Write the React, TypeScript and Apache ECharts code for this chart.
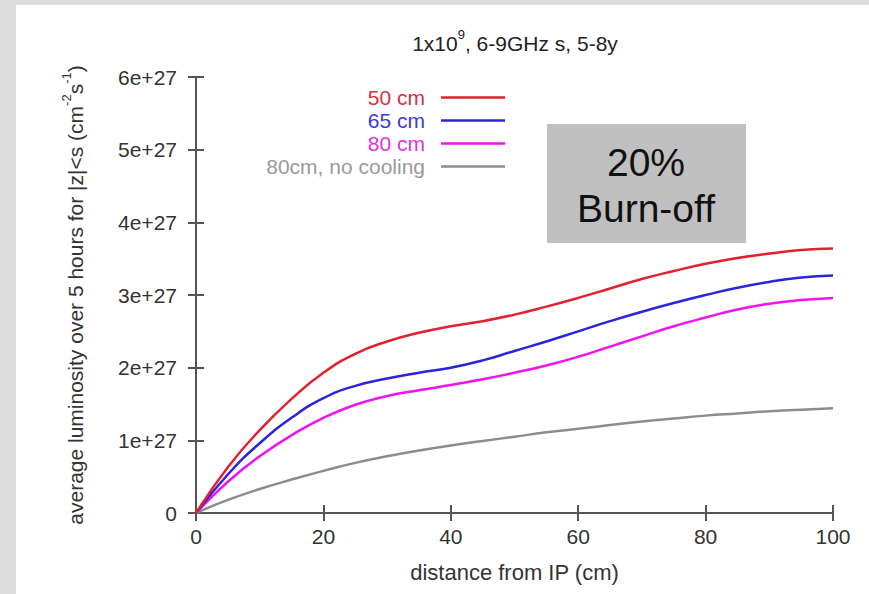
import React, { useEffect, useRef } from "react";
import * as echarts from "echarts";

// distance from IP (cm)
const X = [0, 5, 10, 15, 20, 25, 30, 35, 40, 45, 50, 55, 60, 65, 70, 75, 80, 85, 90, 95, 100];
// average luminosity, in units of 1e27 cm^-2 s^-1
const L50 = [0, 0.63, 1.14, 1.57, 1.93, 2.19, 2.36, 2.48, 2.57, 2.64, 2.73, 2.84, 2.96, 3.09, 3.22, 3.33, 3.43, 3.51, 3.57, 3.62, 3.64];
const L65 = [0, 0.53, 0.96, 1.31, 1.58, 1.75, 1.85, 1.93, 2.0, 2.1, 2.23, 2.36, 2.5, 2.64, 2.77, 2.89, 3.0, 3.1, 3.18, 3.24, 3.27];
const L80 = [0, 0.43, 0.78, 1.07, 1.31, 1.49, 1.61, 1.69, 1.76, 1.84, 1.93, 2.03, 2.15, 2.29, 2.43, 2.57, 2.69, 2.8, 2.88, 2.93, 2.96];
const L80NC = [0, 0.18, 0.33, 0.46, 0.58, 0.69, 0.78, 0.86, 0.93, 0.99, 1.05, 1.11, 1.16, 1.21, 1.26, 1.3, 1.34, 1.37, 1.4, 1.42, 1.44];
const UNIT = 1e27;

const SERIES_NAMES = ["50 cm", "65 cm", "80 cm", "80cm, no cooling"];
const SERIES_DATA = [L50, L65, L80, L80NC];
const LINE_COLORS = ["#e3202f", "#2a24dc", "#f012f0", "#8c8c8c"];
const TEXT_COLORS = ["#d8303f", "#4038d6", "#e032e0", "#9a9a9a"];

const X_TICKS = [0, 20, 40, 60, 80, 100];
const Y_TICK_LABELS = ["0", "1e+27", "2e+27", "3e+27", "4e+27", "5e+27", "6e+27"];

const FONT = "Liberation Sans, Arial, sans-serif";
const FRAME = "#555555";

export default function App() {
  const ref = useRef<HTMLDivElement>(null);

  useEffect(() => {
    if (!ref.current) return;
    const chart = echarts.init(ref.current, undefined, { renderer: "svg" });

    const axisCommon = {
      type: "value" as const,
      axisLine: { show: true, lineStyle: { color: FRAME, width: 2 } },
      axisTick: { show: true, inside: true, length: 8, lineStyle: { color: FRAME, width: 2 } },
      splitLine: { show: false },
    };

    const legendRows = [99, 122, 145, 168];

    const option: any = {
      animation: false,
      backgroundColor: "transparent",
      textStyle: { fontFamily: FONT },
      title: {
        text: "{a|1x10}{s|9}{a|, 6-9GHz s, 5-8y}",
        left: 515,
        top: 28,
        textAlign: "center",
        padding: 0,
        textStyle: {
          fontWeight: "normal",
          rich: {
            a: { fontSize: 21, fontFamily: FONT, fontWeight: "normal", color: "#222", lineHeight: 26, verticalAlign: "bottom" },
            s: { fontSize: 13, fontFamily: FONT, fontWeight: "normal", color: "#222", lineHeight: 26, verticalAlign: "top" },
          },
        },
      },
      legend: SERIES_NAMES.map((name, i) => ({
        data: [{ name, icon: "rect" }],
        orient: "vertical",
        align: "right",
        right: 869 - 505,
        top: legendRows[i] - 12,
        padding: 0,
        itemWidth: 64,
        itemHeight: 2.5,
        selectedMode: false,
        itemStyle: { color: LINE_COLORS[i], borderWidth: 0 },
        textStyle: {
          color: TEXT_COLORS[i],
          fontSize: 21,
          fontFamily: FONT,
          padding: [0, 11, 0, 0],
        },
      })),
      grid: { left: 196, right: 36, top: 77, bottom: 81, containLabel: false },
      xAxis: [
        {
          ...axisCommon,
          position: "bottom",
          min: 0,
          max: 100,
          interval: 20,
          name: "distance from IP (cm)",
          nameLocation: "middle",
          nameGap: 48,
          nameTextStyle: { fontSize: 22, color: "#333", fontFamily: FONT },
          axisLabel: {
            show: true,
            margin: 13,
            fontSize: 21,
            color: "#333",
            fontFamily: FONT,
            formatter: (v: number) => (X_TICKS.includes(v) ? String(v) : ""),
          },
        },
        {
          ...axisCommon,
          position: "top",
          min: 0,
          max: 100,
          interval: 20,
          axisLabel: { show: false },
        },
      ],
      yAxis: [
        {
          ...axisCommon,
          position: "left",
          min: 0,
          max: 6 * UNIT,
          interval: UNIT,
          name: "{a|average luminosity over 5 hours for |z|<s (cm}{s|-2}{a|s}{s|-1}{a|)}",
          nameLocation: "middle",
          nameGap: 110,
          nameTextStyle: {
            rich: {
              a: { fontSize: 21, fontFamily: FONT, color: "#333", lineHeight: 26, verticalAlign: "bottom" },
              s: { fontSize: 13, fontFamily: FONT, color: "#333", lineHeight: 26, verticalAlign: "top" },
            },
          },
          axisLabel: {
            show: true,
            margin: 19,
            fontSize: 21,
            color: "#333",
            fontFamily: FONT,
            formatter: (v: number) => Y_TICK_LABELS[Math.round(v / UNIT)] ?? "",
          },
        },
        {
          ...axisCommon,
          position: "right",
          min: 0,
          max: 6 * UNIT,
          interval: UNIT,
          axisLabel: { show: false },
        },
      ],
      series: SERIES_NAMES.map((name, i) => ({
        name,
        type: "line",
        xAxisIndex: 0,
        yAxisIndex: 0,
        smooth: 0.5,
        symbol: "none",
        lineStyle: { color: LINE_COLORS[i], width: 2.5 },
        itemStyle: { color: LINE_COLORS[i] },
        z: 10 - i,
        data: X.map((x, j) => [x, SERIES_DATA[i][j] * UNIT]),
      })),
      graphic: [
        {
          type: "rect",
          shape: { x: 547, y: 124, width: 199, height: 119 },
          style: { fill: "#c0c0c0" },
          z: 5,
        },
        {
          type: "text",
          x: 646,
          y: 162,
          style: { text: "20%", fontSize: 39, fontFamily: FONT, fill: "#111", textAlign: "center", textVerticalAlign: "middle" },
          z: 6,
        },
        {
          type: "text",
          x: 646,
          y: 208,
          style: { text: "Burn-off", fontSize: 39, fontFamily: FONT, fill: "#111", textAlign: "center", textVerticalAlign: "middle" },
          z: 6,
        },
      ],
    };

    chart.setOption(option);
    return () => chart.dispose();
  }, []);

  return (
    <div style={{ position: "fixed", left: 0, top: 0, width: 869, height: 594, background: "#dcdcdc", overflow: "hidden" }}>
      <div style={{ position: "absolute", left: 16, top: 5, width: 853, height: 589, background: "#ffffff" }} />
      <div ref={ref} style={{ position: "absolute", left: 0, top: 0, width: 869, height: 594 }} />
    </div>
  );
}
